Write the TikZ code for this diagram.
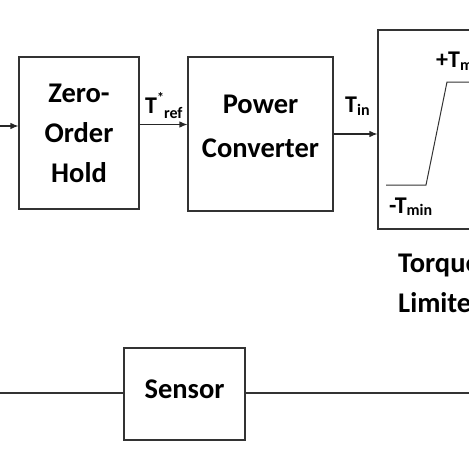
\documentclass[tikz,border=0pt]{standalone}
\usepackage{fontspec}
\setmainfont{Carlito}
\usetikzlibrary{arrows.meta}
\newcommand{\subtxt}[2][-3pt]{\raisebox{#1}{\fontsize{16}{16}\selectfont #2}}
\begin{document}
\begin{tikzpicture}[x=1pt,y=-1pt,
  blk/.style={draw=black!80, line width=1.1pt, inner sep=0pt},
  big/.style={font=\bfseries\fontsize{28.5}{28.5}\selectfont, anchor=base, inner sep=0pt},
  sig/.style={font=\bfseries\fontsize{24}{24}\selectfont, anchor=base west, inner sep=0pt},
  arr/.style={draw=black!85, line width=1.1pt, -{Latex[length=8pt,width=6.5pt]}},
  wire/.style={draw=black!80, line width=1.1pt}]
\useasboundingbox (0,0) rectangle (469,469);
\clip (0,0) rectangle (469,469);

% blocks
\node[blk, minimum width=120pt, minimum height=152pt] (zoh) at (79,133) {};
\node[blk, minimum width=145pt, minimum height=154pt] (pc) at (260.5,134) {};
\node[blk, minimum width=121pt, minimum height=199pt] (tl) at (438.5,129.5) {};
\node[blk, minimum width=121pt, minimum height=92pt] (sen) at (184.5,394) {};

% block texts
\node[big] (t1) at (79,102) {Zero-};
\node[big] (t2) at (79,142) {Order};
\node[big] (t3) at (79,182) {Hold};
\node[big] (t4) at (260.5,113) {Power};
\node[big] (t5) at (260.5,157) {Converter};
\node[big] (t6) at (184.5,398) {Sensor};
\node[big, anchor=base west] (t7) at (398,272) {Torque};
\node[big, anchor=base west] (t8) at (398,312) {Limiter};

% connectors
\coordinate (in) at (0,126);
\coordinate (r1) at (0,124.5);
\draw[arr] (in) -- (in -| zoh.west);
\draw[arr] (r1 -| zoh.east) -- (r1 -| pc.west);
\draw[arr] (pc.east) -- (pc.east -| tl.west);

\coordinate (sl) at (0,393);
\coordinate (sr) at (469,393);
\draw[wire] (sl) -- (sl -| sen.west);
\draw[wire] (sl -| sen.east) -- (sr);

% signal labels
\node[sig] (lref) at (145,113) {T\raisebox{11pt}{\fontsize{14}{14}\selectfont *}\subtxt[-5pt]{ref}};
\node[sig] (lin) at (345,112) {T\subtxt{in}};
\node[sig] (lmax) at (436,67) {+T\subtxt{max}};
\node[sig] (lmin) at (389,213) {-T\subtxt[-2pt]{min}};

% limiter characteristic
\coordinate (c1) at (386,185);
\coordinate (c2) at (426,185);
\coordinate (c3) at (447,82);
\coordinate (c4) at (500,82);
\draw[wire, line width=1pt] (c1) -- (c2) -- (c3) -- (c4);
\end{tikzpicture}
\end{document}
